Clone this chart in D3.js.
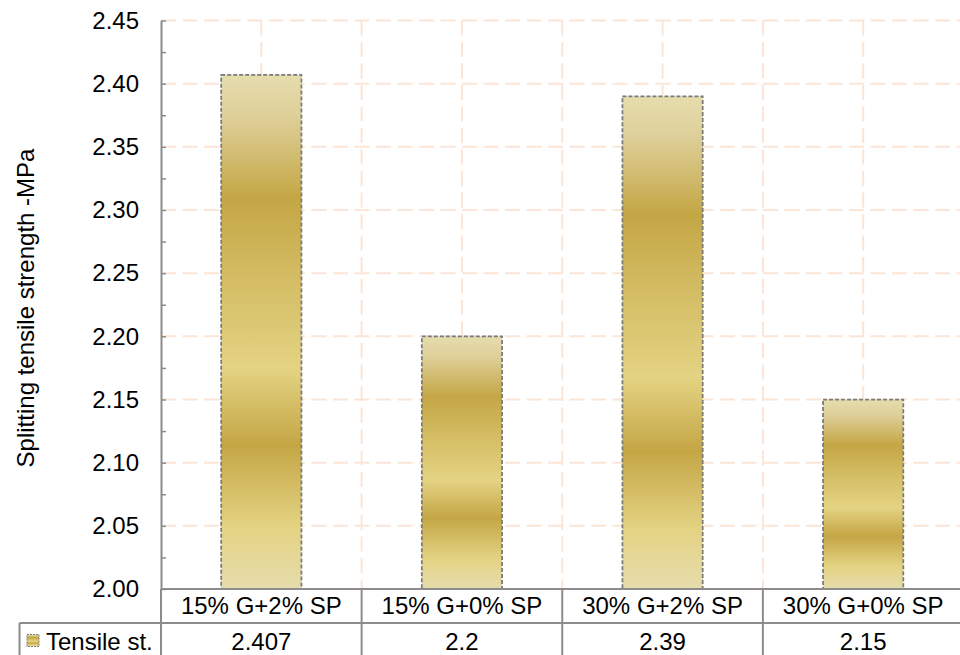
<!DOCTYPE html>
<html>
<head>
<meta charset="utf-8">
<script src="https://cdn.jsdelivr.net/npm/d3@7"></script>
<style>
  html, body { margin: 0; padding: 0; background: #fff; }
  svg { display: block; font-family: "Liberation Sans", Arial, sans-serif; }
</style>
</head>
<body>
<svg id="chart" width="960" height="655"></svg>
<script>
// Splitting tensile strength per mix
const categories = ["15% G+2% SP", "15% G+0% SP", "30% G+2% SP", "30% G+0% SP"];
const tensile = [2.407, 2.2, 2.39, 2.15];
const valueLabels = ["2.407", "2.2", "2.39", "2.15"];
const seriesName = "Tensile st.";
const yTicks = [2.00, 2.05, 2.10, 2.15, 2.20, 2.25, 2.30, 2.35, 2.40, 2.45];
const yMinorTicks = [2.025, 2.075, 2.125, 2.175, 2.225, 2.275, 2.325, 2.375, 2.425];

const svg = d3.select("#chart");
const W = 960, H = 655;
const plot = { left: 161, right: 963.5, top: 20.5, bottom: 589 };
const rowH = 34;
const fontSize = 24;
const lineColor = "#8c8c8c";
const gridColor = "#fbe5d6";

const x = d3.scaleBand()
  .domain(categories)
  .range([plot.left, plot.right])
  .paddingInner(0.6)
  .paddingOuter(0.3);

const y = d3.scaleLinear()
  .domain([2.0, 2.45])
  .range([plot.bottom, plot.top]);

// Gold banded fill for the bars
const defs = svg.append("defs");
const grad = defs.append("linearGradient")
  .attr("id", "gold")
  .attr("x1", 0).attr("y1", 0).attr("x2", 0).attr("y2", 1);
[
  [0.00, "#e6dcad"],
  [0.08, "#ded09a"],
  [0.24, "#c4a645"],
  [0.40, "#d4bd64"],
  [0.57, "#e4d383"],
  [0.72, "#c4a645"],
  [0.88, "#e4d383"],
  [1.00, "#e6dcad"]
].forEach(([o, c]) => grad.append("stop").attr("offset", o).attr("stop-color", c));

// Gridlines
const step = x.step();
const vLines = d3.range(1, 8).map(i => plot.left + i * step / 2).filter(v => v < W);
svg.append("g").attr("class", "grid-v")
  .selectAll("line").data(vLines).join("line")
  .attr("x1", d => d).attr("x2", d => d)
  .attr("y1", plot.top).attr("y2", plot.bottom)
  .attr("stroke", gridColor).attr("stroke-width", 2)
  .attr("stroke-dasharray", "15,6.5");

svg.append("g").attr("class", "grid-h")
  .selectAll("line").data(yTicks.slice(1)).join("line")
  .attr("x1", plot.left).attr("x2", plot.right)
  .attr("y1", d => y(d)).attr("y2", d => y(d))
  .attr("stroke", gridColor).attr("stroke-width", 2)
  .attr("stroke-dasharray", "15,6.5");

// Bars
svg.append("g").attr("class", "bars")
  .selectAll("rect").data(categories).join("rect")
  .attr("x", d => x(d))
  .attr("width", x.bandwidth())
  .attr("y", (d, i) => y(tensile[i]))
  .attr("height", (d, i) => y(2.0) - y(tensile[i]))
  .attr("fill", "url(#gold)")
  .attr("stroke", "#7a7a7a")
  .attr("stroke-width", 1.75)
  .attr("stroke-dasharray", "4,2");

// Value axis
const yAxis = d3.axisLeft(y)
  .tickValues(yTicks)
  .tickFormat(d3.format(".2f"))
  .tickSizeInner(-5)
  .tickSizeOuter(0)
  .tickPadding(22);
const gy = svg.append("g")
  .attr("transform", `translate(${plot.left},0)`)
  .call(yAxis);
gy.select(".domain").attr("stroke", lineColor).attr("stroke-width", 2);
gy.selectAll(".tick line").attr("stroke", lineColor).attr("stroke-width", 1.5);
gy.selectAll(".tick text")
  .attr("fill", "#000")
  .style("font-size", fontSize + "px")
  .style("font-family", "'Liberation Sans', Arial, sans-serif");

const yMinor = d3.axisLeft(y)
  .tickValues(yMinorTicks)
  .tickFormat("")
  .tickSizeInner(-5)
  .tickSizeOuter(0);
const gm = svg.append("g")
  .attr("transform", `translate(${plot.left},0)`)
  .call(yMinor);
gm.select(".domain").remove();
gm.selectAll(".tick line").attr("stroke", lineColor).attr("stroke-width", 1.5);

// Axis title
svg.append("text")
  .attr("transform", `translate(34,308) rotate(-90)`)
  .attr("text-anchor", "middle")
  .attr("fill", "#000")
  .style("font-size", fontSize + "px")
  .text("Splitting tensile strength -MPa");

// Data table below the plot
const table = svg.append("g").attr("class", "table");
const row1 = plot.bottom, row2 = plot.bottom + rowH;
const tableLeft = 19.5;
const bounds = d3.range(1, categories.length).map(i => plot.left + i * step);

table.append("line")
  .attr("x1", plot.left).attr("x2", W)
  .attr("y1", row1).attr("y2", row1);
table.append("line")
  .attr("x1", tableLeft).attr("x2", W)
  .attr("y1", row2).attr("y2", row2);
table.append("line")
  .attr("x1", plot.left).attr("x2", plot.left)
  .attr("y1", row1).attr("y2", H);
table.append("line")
  .attr("x1", tableLeft).attr("x2", tableLeft)
  .attr("y1", row2).attr("y2", H);
table.selectAll("line.sep").data(bounds).join("line")
  .attr("class", "sep")
  .attr("x1", d => d).attr("x2", d => d)
  .attr("y1", row1).attr("y2", H);
table.selectAll("line")
  .attr("stroke", lineColor).attr("stroke-width", 2);

table.selectAll("text.cat").data(categories).join("text")
  .attr("class", "cat")
  .attr("x", d => x(d) + x.bandwidth() / 2)
  .attr("y", row1 + 25)
  .attr("text-anchor", "middle")
  .attr("fill", "#000")
  .style("font-size", fontSize + "px")
  .text(d => d);

table.selectAll("text.val").data(valueLabels).join("text")
  .attr("class", "val")
  .attr("x", (d, i) => x(categories[i]) + x.bandwidth() / 2)
  .attr("y", row2 + 27)
  .attr("text-anchor", "middle")
  .attr("fill", "#000")
  .style("font-size", fontSize + "px")
  .text(d => d);

// Legend key and series name
table.append("rect")
  .attr("x", 27).attr("y", 634.5)
  .attr("width", 12).attr("height", 12)
  .attr("fill", "url(#gold)")
  .attr("stroke", "#7f7f7f")
  .attr("stroke-width", 1)
  .attr("stroke-dasharray", "2,1");
table.append("text")
  .attr("x", 46)
  .attr("y", row2 + 27)
  .attr("fill", "#000")
  .style("font-size", fontSize + "px")
  .text(seriesName);
</script>
</body>
</html>
